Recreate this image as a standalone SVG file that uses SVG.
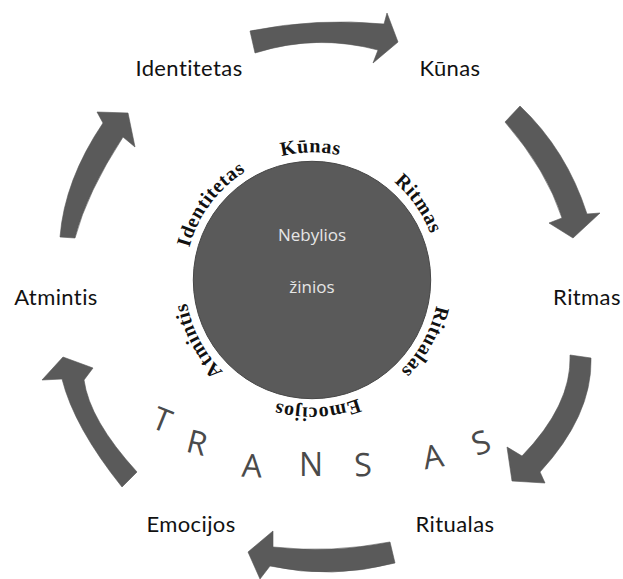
<svg xmlns="http://www.w3.org/2000/svg" width="623" height="579" viewBox="0 0 623 579">
<style>
.arrow{fill:#5a5a5a;stroke:#555;stroke-width:0.6}
.lbl{font-family:Lato,"Open Sans",sans-serif;font-size:22px;fill:#111;text-anchor:middle;letter-spacing:0.4px}
.ring{font-family:"Liberation Serif",serif;font-weight:bold;font-size:20px;fill:#111;letter-spacing:0.6px}
.inner{font-family:"Open Sans","Liberation Sans",sans-serif;font-size:17px;fill:#e6e6e6;text-anchor:middle}
.tr{font-family:"Open Sans","Liberation Sans",sans-serif;font-size:32px;fill:#4a4a4a;text-anchor:middle}
</style>
<defs>
<path id="ringPath" d="M366.1,164 A128,128 0 0 1 257.9,396 A128,128 0 0 1 366.1,164"/>
</defs>
<rect width="623" height="579" fill="#fff"/>
<g id="connectors">
<path class="arrow" d="M250,31 Q317,17.5 384,24 L387,13 L398,42 L373,63 L378,50 Q316,33.5 255,53 Z"/>
<path class="arrow" d="M520,106 Q566.5,150 587,214 L600,213 L573,238 L549,223 L562,218 Q546.5,170 505,122 Z"/>
<path class="arrow" d="M570,355 L591,358 Q592.5,415 540,472 L545,483 L512,481 L507,447 L522,456 Q572,404.5 570,355 Z"/>
<path class="arrow" d="M390,542 Q331,553.5 273,547 L273,531 L248,552 L260,579 L270,566 Q332,579.5 395,563 Z"/>
<path class="arrow" d="M137,472 Q89.5,420 84,380 L93,368 L63,357 L42,380 L62,379 Q74,427 122,487 Z"/>
<path class="arrow" d="M60,237 Q64.5,180 103,123 L97,112 L128,113 L135,147 L123,137 Q87,192.5 75,238 Z"/>
</g>
<g id="identitetas"><text class="lbl" x="189" y="76">Identitetas</text></g>
<g id="kunas"><text class="lbl" x="450" y="76">Kūnas</text></g>
<g id="ritmas"><text class="lbl" x="587" y="305">Ritmas</text></g>
<g id="atmintis"><text class="lbl" x="56" y="305">Atmintis</text></g>
<g id="emocijos"><text class="lbl" x="191" y="532">Emocijos</text></g>
<g id="ritualas"><text class="lbl" x="455" y="532">Ritualas</text></g>
<g id="center">
<circle cx="312" cy="280" r="118.7" fill="#5a5a5a" stroke="#474747" stroke-width="1"/>
<text class="inner" x="312" y="241">Nebylios</text>
<text class="inner" x="312" y="293">žinios</text>
</g>
<g id="ring-labels">
<text class="ring" text-anchor="middle"><textPath href="#ringPath" startOffset="742.3">Kūnas</textPath></text>
<text class="ring" text-anchor="middle"><textPath href="#ringPath" startOffset="65.5">Ritmas</textPath></text>
<text class="ring" text-anchor="middle"><textPath href="#ringPath" startOffset="208">Ritualas</textPath></text>
<text class="ring" text-anchor="middle"><textPath href="#ringPath" startOffset="338.4">Emocijos</textPath></text>
<text class="ring" text-anchor="middle"><textPath href="#ringPath" startOffset="481.9">Atmintis</textPath></text>
<text class="ring" text-anchor="middle"><textPath href="#ringPath" startOffset="625.5">Identitetas</textPath></text>
</g>
<g id="transas">
<text class="tr" x="162" y="431" transform="rotate(22 162 420)">T</text>
<text class="tr" x="197" y="454" transform="rotate(14 197 443)">R</text>
<text class="tr" x="252" y="477" transform="rotate(3 252 466)">A</text>
<text class="tr" x="311" y="476">N</text>
<text class="tr" x="363" y="476" transform="rotate(-3 363 465)">S</text>
<text class="tr" x="433" y="468" transform="rotate(-10 433 457)">A</text>
<text class="tr" x="481" y="454" transform="rotate(-20 481 443)">S</text>
</g>
</svg>
